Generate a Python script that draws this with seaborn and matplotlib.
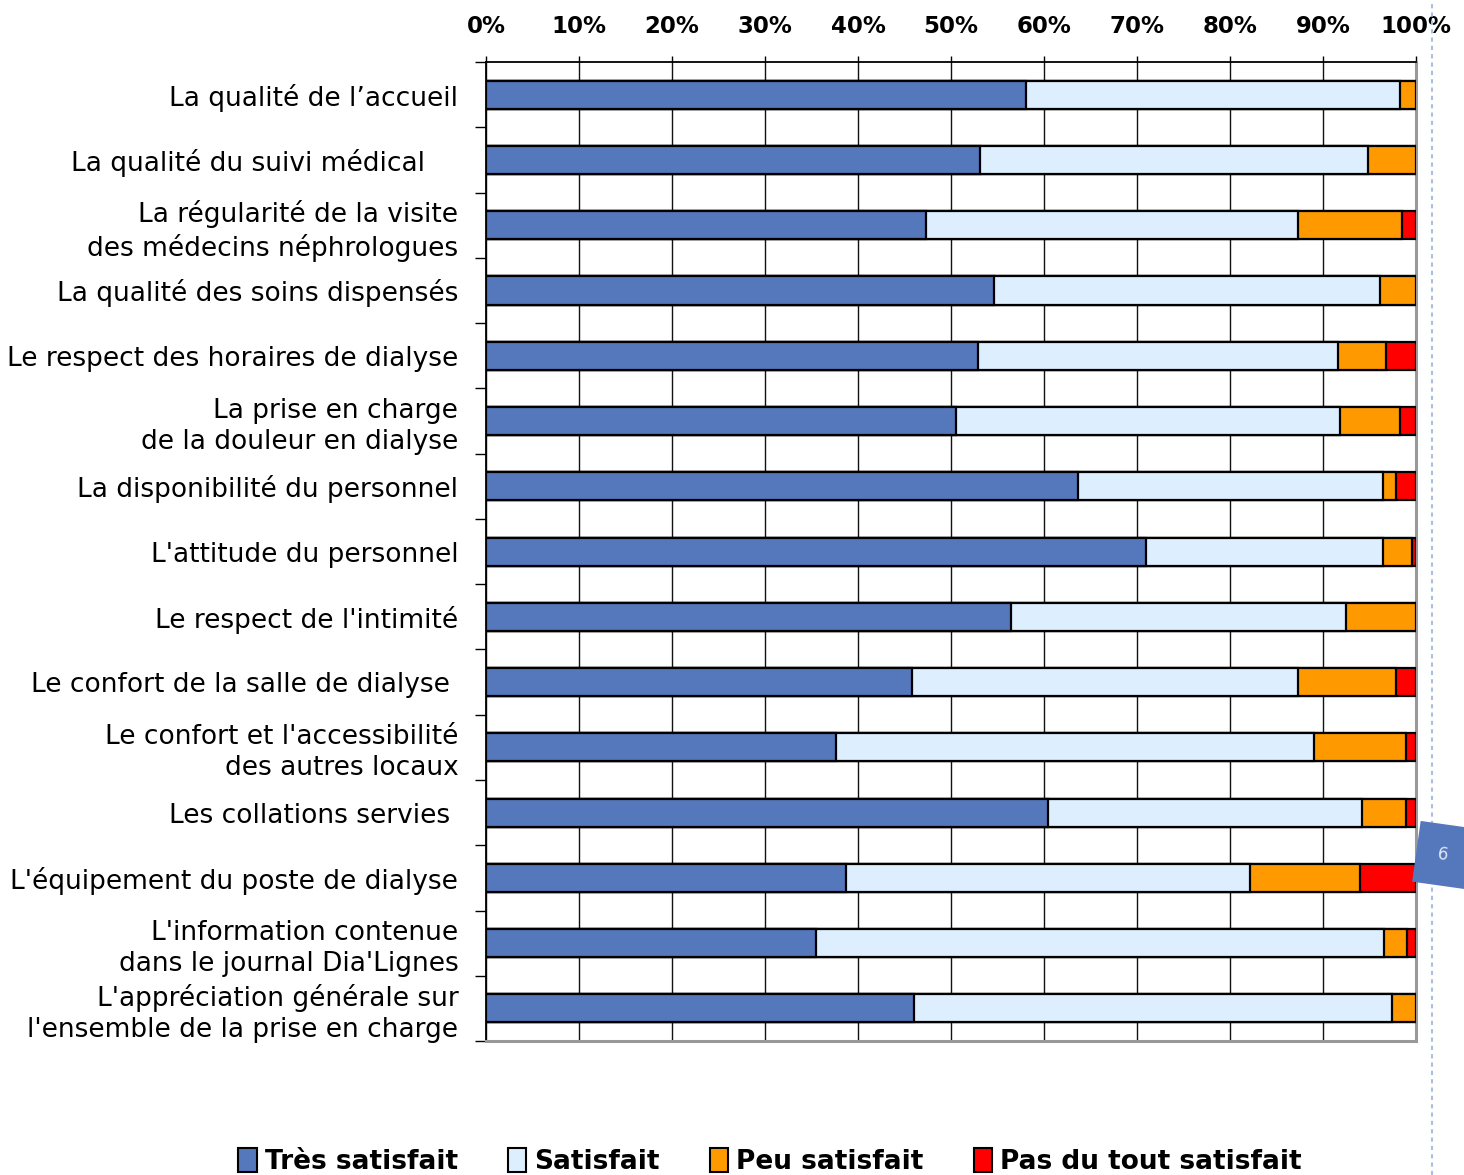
import seaborn as sns
import matplotlib.pyplot as plt
import numpy as np
from matplotlib.patches import Patch
from matplotlib.lines import Line2D

sns.set_style('white')
plt.rcParams['font.family'] = ['DejaVu Sans']
plt.rcParams['text.color'] = 'black'
plt.rcParams['xtick.color'] = 'black'
plt.rcParams['ytick.color'] = 'black'

labels = [
    "La qualité de l\u2019accueil",
    "La qualité du suivi médical    ",
    "La régularité de la visite\ndes médecins néphrologues",
    "La qualité des soins dispensés",
    "Le respect des horaires de dialyse",
    "La prise en charge\nde la douleur en dialyse",
    "La disponibilité du personnel",
    "L'attitude du personnel",
    "Le respect de l'intimité",
    "Le confort de la salle de dialyse ",
    "Le confort et l'accessibilité\ndes autres locaux",
    "Les collations servies ",
    "L'équipement du poste de dialyse",
    "L'information contenue\ndans le journal Dia'Lignes",
    "L'appréciation générale sur\nl'ensemble de la prise en charge",
]

tres = [58.1, 53.1, 47.3, 54.6, 52.9, 50.5, 63.7, 71.0, 56.4, 45.8, 37.6, 60.4, 38.7, 35.5, 46.0]
sat = [40.2, 41.7, 40.0, 41.5, 38.7, 41.3, 32.7, 25.4, 36.1, 41.5, 51.4, 33.8, 43.5, 61.1, 51.4]
peu = [1.7, 5.2, 11.2, 3.9, 5.2, 6.5, 1.4, 3.2, 7.5, 10.5, 9.9, 4.7, 11.8, 2.4, 2.6]
pas = [0, 0, 1.5, 0, 3.2, 1.7, 2.2, 0.4, 0, 2.2, 1.1, 1.1, 6.0, 1.0, 0]

series = ["Très satisfait", "Satisfait", "Peu satisfait", "Pas du tout satisfait"]
colors = ["#5577BB", "#DDEEFF", "#FF9900", "#FF0000"]

c1 = np.array(tres)
c2 = c1 + np.array(sat)
c3 = c2 + np.array(peu)
c4 = c3 + np.array(pas)

fig = plt.figure(figsize=(14.64, 11.75), dpi=100)
ax = fig.add_axes([0.3320, 0.1140, 0.6352, 0.8332])

# stacked bars drawn back to front (cumulative widths)
for cum, col in zip([c4, c3, c2, c1], colors[::-1]):
    sns.barplot(x=cum, y=labels, orient='h', color=col, saturation=1,
                width=0.43, edgecolor='black', linewidth=1.6, ax=ax, zorder=3)

ax.set_xlim(0, 100)
ax.set_ylim(14.5, -0.5)
ax.set_xlabel('')
ax.set_ylabel('')

ax.xaxis.tick_top()
ax.set_xticks(np.arange(0, 101, 10))
ax.set_xticklabels([f"{v}%" for v in range(0, 101, 10)], fontweight='bold', fontsize=16.5)
ax.tick_params(axis='x', which='major', length=4, width=1, direction='out', pad=13)
ax.grid(axis='x', color='#111111', linewidth=1.0, zorder=0)
ax.set_axisbelow(True)

ax.set_yticks(np.arange(-0.5, 15, 1), minor=True)
ax.tick_params(axis='y', which='minor', length=8, width=1, direction='out', left=True)
ax.tick_params(axis='y', which='major', length=0, pad=20, labelsize=19)
for t in ax.get_yticklabels():
    t.set_linespacing(1.25)
    t.set_horizontalalignment('right')
    t.set_color('black')

ax.spines['top'].set_color('black')
ax.spines['top'].set_linewidth(1.3)
ax.spines['left'].set_color('black')
ax.spines['left'].set_linewidth(1.3)
ax.spines['right'].set_color('#999999')
ax.spines['right'].set_linewidth(2.2)
ax.spines['bottom'].set_color('#999999')
ax.spines['bottom'].set_linewidth(2.2)

handles = [Patch(facecolor=c, edgecolor='black', linewidth=1.5) for c in colors]
leg = fig.legend(handles, series, loc='center', bbox_to_anchor=(0.526, 0.0115), ncol=4,
                 frameon=False, prop={'weight': 'bold', 'size': 19},
                 handlelength=0.7, handleheight=1.0, handletextpad=0.3, columnspacing=1.9)
for t in leg.get_texts():
    t.set_color('black')

# page-layout artefacts on the right edge
fig.add_artist(Line2D([0.978, 0.978], [0, 1], transform=fig.transFigure,
                      color='#a8bfe4', linewidth=1.5, linestyle=(0, (2, 2))))
fig.text(0.9857, 0.2723, '6', rotation=-8, color='#dde8f8', fontsize=12,
         ha='center', va='center', rotation_mode='anchor',
         bbox=dict(boxstyle='square,pad=1.3', facecolor='#5577BB', edgecolor='none'))

fig.savefig('out.png', dpi=100)
